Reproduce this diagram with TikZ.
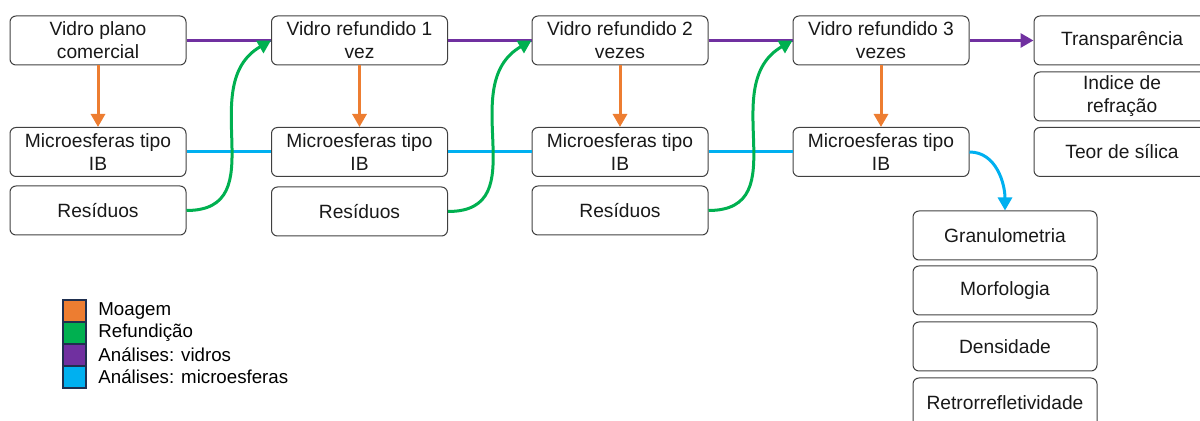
\documentclass[tikz,border=0pt]{standalone}
\usepackage{fontspec}
\setmainfont{Liberation Sans}
\usepackage{tikz}
\usetikzlibrary{arrows.meta}

\definecolor{moagem}{HTML}{ED7D31}
\definecolor{refundicao}{HTML}{00B050}
\definecolor{vidros}{HTML}{7030A0}
\definecolor{micros}{HTML}{00B0F0}
\definecolor{legborda}{HTML}{1F2F4F}

\begin{document}
\begin{tikzpicture}[x=0.5pt, y=0.5pt,
   font=\fontsize{9.6}{11.5}\selectfont,
   caixa/.style={draw=black!75, line width=0.5pt, rounded corners=3pt,
      minimum width=88pt, minimum height=24.5pt, inner sep=1pt,
      align=center, text=black!90},
   caixalarga/.style={caixa, minimum width=92pt},
   legbox/.style={draw=legborda, line width=0.8pt, minimum width=11.5pt,
      minimum height=11pt, inner sep=0pt},
   legtexto/.style={anchor=west, inner sep=0pt, font=\fontsize{9.35}{11}\selectfont},
   ponta/.style={-{Triangle[width=7pt, length=6.5pt]}},
   linha/.style={line width=1.5pt}]
   \clip (0, 0) rectangle (1200, -421);

   % vidros
   \node [caixa] (vidro0) at (98, -40.5) {Vidro plano\\comercial};
   \node [caixa] (vidro1) at (359.5, -40.5) {Vidro refundido 1\\vez};
   \node [caixa] (vidro2) at (620, -40.5) {Vidro refundido 2\\vezes};
   \node [caixa] (vidro3) at (881, -40.5) {Vidro refundido 3\\vezes};

   % microesferas
   \node [caixa] (micro0) at (98, -152) {Microesferas tipo\\IB};
   \node [caixa] (micro1) at (359.5, -152) {Microesferas tipo\\IB};
   \node [caixa] (micro2) at (620, -152) {Microesferas tipo\\IB};
   \node [caixa] (micro3) at (881, -152) {Microesferas tipo\\IB};

   % residuos
   \node [caixa] (resid0) at (98, -210.5) {Resíduos};
   \node [caixa] (resid1) at (359.5, -211.5) {Resíduos};
   \node [caixa] (resid2) at (620, -210.5) {Resíduos};

   % analises dos vidros
   \node [caixa] (transp) at (1122, -40.5) {Transparência};
   \node [caixa] (indice) at (1122, -96.5) {Indice de\\refração};
   \node [caixa] (silica) at (1122, -152) {Teor de sílica};

   % analises das microesferas
   \node [caixalarga] (granulo) at (1005, -235.5) {Granulometria};
   \node [caixalarga] (morfo) at (1005, -290.5) {Morfologia};
   \node [caixalarga] (densid) at (1005, -346.5) {Densidade};
   \node [caixalarga] (retro) at (1005, -402.5) {Retrorrefletividade};

   % moagem
   \draw [linha, ponta, moagem] (vidro0) -- (micro0);
   \draw [linha, ponta, moagem] (vidro1) -- (micro1);
   \draw [linha, ponta, moagem] (vidro2) -- (micro2);
   \draw [linha, ponta, moagem] (vidro3) -- (micro3);

   % analises
   \draw [linha, vidros] (vidro0) -- (vidro1);
   \draw [linha, vidros] (vidro1) -- (vidro2);
   \draw [linha, vidros] (vidro2) -- (vidro3);
   \draw [linha, ponta, vidros] (vidro3) -- (transp);
   \draw [linha, micros] (micro0) -- (micro1);
   \draw [linha, micros] (micro1) -- (micro2);
   \draw [linha, micros] (micro2) -- (micro3);
   \draw [linha, ponta, micros] (micro3.east) to[out=0, in=90] (granulo.north);

   % refundicao
   \draw [linha, ponta, refundicao] (resid0.east) to[out=0, in=210, looseness=1.2] (vidro1.west);
   \draw [linha, ponta, refundicao] (resid1.east) to[out=0, in=210, looseness=1.2] (vidro2.west);
   \draw [linha, ponta, refundicao] (resid2.east) to[out=0, in=210, looseness=1.2] (vidro3.west);

   % legenda
   \node [legbox, fill=moagem] (legmoagem) at (74.5, -311) {};
   \node [legbox, fill=refundicao] (legrefund) at (74.5, -333) {};
   \node [legbox, fill=vidros] (legvidros) at (74.5, -355) {};
   \node [legbox, fill=micros] (legmicros) at (74.5, -377) {};
   \node [legtexto] (txtmoagem) at (98, -311) {Moagem};
   \node [legtexto] (txtrefund) at (98, -333) {Refundição};
   \node [legtexto] (txtvidros) at (98, -355) {Análises: vidros};
   \node [legtexto] (txtmicros) at (98, -377) {Análises: microesferas};
\end{tikzpicture}
\end{document}
